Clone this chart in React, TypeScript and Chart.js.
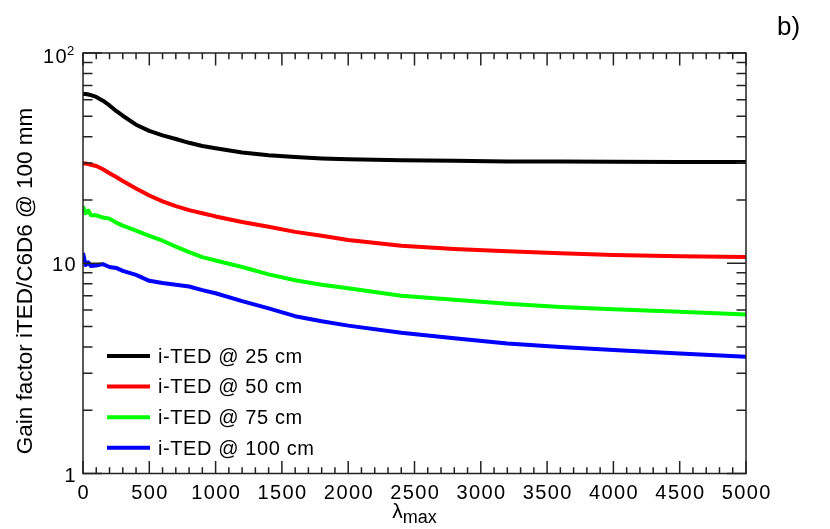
import { useEffect, useRef } from 'react';
import { Chart, registerables } from 'chart.js';

Chart.register(...registerables);

// lambda_max sample points shared by all four curves
const lambdaMax = [
  0, 20, 40, 60, 100, 150, 200, 250, 300, 400, 500, 600, 700, 800, 900, 1000,
  1200, 1400, 1600, 1800, 2000, 2400, 2800, 3200, 3600, 4000, 4500, 5000,
];

const gain25cm = [
  63.8, 63.8, 63.5, 63.0, 61.8, 59.3, 56.3, 53.0, 50.3, 45.6, 42.6, 40.6, 39.0, 37.4, 36.1, 35.2,
  33.6, 32.6, 32.0, 31.5, 31.2, 30.9, 30.7, 30.5, 30.45, 30.4, 30.35, 30.3,
];
const gain50cm = [
  29.8, 29.8, 29.6, 29.4, 29.0, 28.0, 26.8, 25.7, 24.6, 22.7, 21.0, 19.7, 18.7, 17.9, 17.3, 16.7,
  15.7, 14.9, 14.1, 13.5, 12.9, 12.1, 11.7, 11.4, 11.15, 10.95, 10.8, 10.7,
];
const gain75cm = [
  18.6, 17.3, 17.8, 16.9, 16.9, 16.5, 16.3, 15.6, 15.1, 14.3, 13.5, 12.8, 12.0, 11.3, 10.7, 10.3,
  9.6, 8.85, 8.3, 7.9, 7.6, 7.0, 6.7, 6.42, 6.2, 6.05, 5.88, 5.71,
];
const gain100cm = [
  11.2, 9.8, 10.1, 9.7, 9.75, 9.9, 9.6, 9.5, 9.2, 8.8, 8.25, 8.05, 7.9, 7.75, 7.45, 7.2,
  6.6, 6.1, 5.6, 5.3, 5.05, 4.67, 4.4, 4.15, 4.0, 3.87, 3.72, 3.59,
];

const seriesLabels = ['i-TED @ 25 cm', 'i-TED @ 50 cm', 'i-TED @ 75 cm', 'i-TED @ 100 cm'];
const seriesColors = ['#000000', '#ff0000', '#00ff00', '#0000ff'];
const seriesValues = [gain25cm, gain50cm, gain75cm, gain100cm];

const xTickValues = [0, 500, 1000, 1500, 2000, 2500, 3000, 3500, 4000, 4500, 5000];
const yTickValues = [1, 10, 100];

const FONT = '"Liberation Sans", Arial, Helvetica, sans-serif';

// ROOT-like frame: inward ticks on all four sides, labels, titles and legend
const rootFrame = {
  id: 'rootFrame',
  afterDraw(chart: any) {
    const { ctx, chartArea: a } = chart;
    const xs = chart.scales.x;
    const ys = chart.scales.y;
    ctx.save();

    ctx.strokeStyle = '#222';
    ctx.lineWidth = 1.5;
    ctx.strokeRect(a.left, a.top, a.right - a.left, a.bottom - a.top);

    ctx.beginPath();
    for (let v = 0; v <= 5000; v += 100) {
      const px = xs.getPixelForValue(v);
      const len = v % 500 === 0 ? 12.5 : 6.3;
      ctx.moveTo(px, a.bottom);
      ctx.lineTo(px, a.bottom - len);
      ctx.moveTo(px, a.top);
      ctx.lineTo(px, a.top + len);
    }
    for (let d = 1; d <= 10; d *= 10) {
      for (let k = 1; k <= 10; k++) {
        const v = k * d;
        const py = ys.getPixelForValue(v);
        const len = k === 1 || k === 10 ? 19 : 9.5;
        ctx.moveTo(a.left, py);
        ctx.lineTo(a.left + len, py);
        ctx.moveTo(a.right, py);
        ctx.lineTo(a.right - len, py);
      }
    }
    ctx.stroke();

    ctx.fillStyle = '#000';
    (ctx as any).letterSpacing = '1.4px';
    ctx.font = `20px ${FONT}`;
    ctx.textAlign = 'center';
    ctx.textBaseline = 'alphabetic';
    xTickValues.forEach((v) => {
      ctx.fillText(String(v), xs.getPixelForValue(v) + 0.7, a.bottom + 25.5);
    });

    ctx.textAlign = 'right';
    yTickValues.forEach((v) => {
      const py = ys.getPixelForValue(v);
      if (v === 100) {
        ctx.font = `20px ${FONT}`;
        ctx.fillText('10', 68, py + 10);
        ctx.font = `13px ${FONT}`;
        ctx.textAlign = 'left';
        ctx.fillText('2', 67, py + 2);
        ctx.textAlign = 'right';
      } else {
        ctx.font = `20px ${FONT}`;
        ctx.fillText(String(v), 77, py + 8);
      }
    });

    (ctx as any).letterSpacing = '0px';
    // x title: lambda with subscript "max"
    ctx.font = `21px ${FONT}`;
    const wL = ctx.measureText('λ').width;
    ctx.font = `18px ${FONT}`;
    const wM = ctx.measureText('max').width;
    const x0 = (a.left + a.right) / 2 - (wL + wM) / 2;
    ctx.textAlign = 'left';
    ctx.font = `21px ${FONT}`;
    ctx.fillText('λ', x0, 518);
    ctx.font = `18px ${FONT}`;
    ctx.fillText('max', x0 + wL, 523);

    // y title
    ctx.save();
    ctx.translate(32, 281);
    ctx.rotate(-Math.PI / 2);
    ctx.textAlign = 'center';
    ctx.font = `22.5px ${FONT}`;
    ctx.fillText('Gain factor iTED/C6D6 @ 100 mm', 0, 0);
    ctx.restore();

    // legend
    (ctx as any).letterSpacing = '0.6px';
    ctx.font = `20px ${FONT}`;
    ctx.textAlign = 'left';
    seriesLabels.forEach((label, i) => {
      const ly = 356 + 30.6 * i;
      ctx.strokeStyle = seriesColors[i];
      ctx.lineWidth = 4;
      ctx.beginPath();
      ctx.moveTo(107, ly);
      ctx.lineTo(150, ly);
      ctx.stroke();
      ctx.fillText(label, 158, ly + 6.8);
    });

    (ctx as any).letterSpacing = '0px';
    ctx.font = `26px ${FONT}`;
    ctx.fillText('b)', 777, 35);

    ctx.restore();
  },
};

export default function App() {
  const canvasRef = useRef<HTMLCanvasElement>(null);
  const chartRef = useRef<Chart | null>(null);

  useEffect(() => {
    if (!canvasRef.current) return;
    if (chartRef.current) chartRef.current.destroy();

    chartRef.current = new Chart(canvasRef.current, {
      type: 'line',
      data: {
        datasets: seriesValues.map((vals, i) => ({
          label: seriesLabels[i],
          data: lambdaMax.map((l, j) => ({ x: l, y: vals[j] })),
          borderColor: seriesColors[i],
          backgroundColor: seriesColors[i],
          borderWidth: 4,
          pointRadius: 0,
          tension: 0,
          borderJoinStyle: 'round' as const,
          fill: false,
        })),
      },
      options: {
        animation: false,
        responsive: true,
        maintainAspectRatio: false,
        layout: { padding: { left: 83, right: 84, top: 53, bottom: 55.5 } },
        plugins: {
          legend: { display: false },
          tooltip: { enabled: false },
        },
        scales: {
          x: { type: 'linear', min: 0, max: 5000, display: false },
          y: { type: 'logarithmic', min: 1, max: 100, display: false },
        },
      },
      plugins: [rootFrame],
    });

    return () => {
      if (chartRef.current) {
        chartRef.current.destroy();
        chartRef.current = null;
      }
    };
  }, []);

  return (
    <div style={{ position: 'fixed', left: 0, top: 0, width: '830px', height: '529px', background: '#fff' }}>
      <canvas ref={canvasRef}></canvas>
    </div>
  );
}
